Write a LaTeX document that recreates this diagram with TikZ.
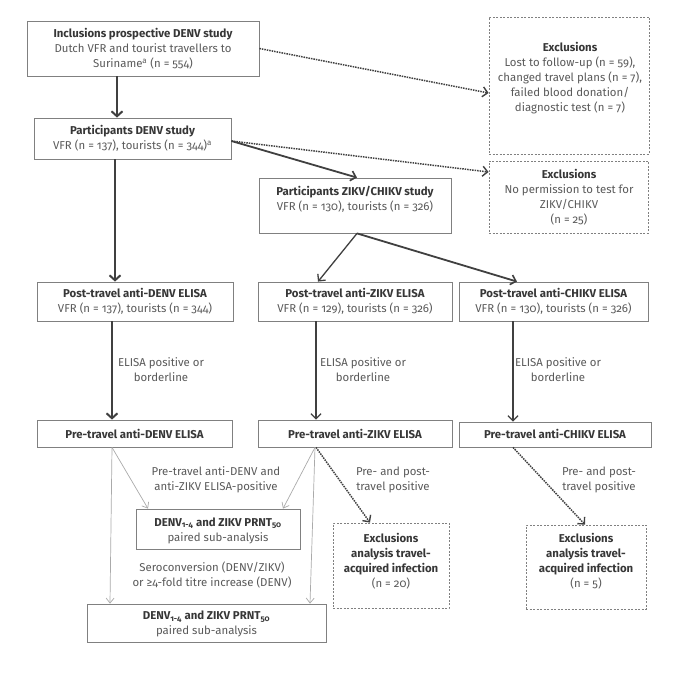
\documentclass[tikz,border=0pt]{standalone}
\usepackage{fontspec}
\setmainfont{Fira Sans}[Numbers=OldStyle]
\usetikzlibrary{arrows.meta}
\definecolor{boxline}{RGB}{128,128,128}
\definecolor{darkarrow}{RGB}{64,64,64}
\definecolor{lightarrow}{RGB}{170,170,170}
\definecolor{titlegray}{RGB}{55,55,55}
\definecolor{txtgray}{RGB}{90,90,90}
\newcommand\ttl[1]{{\color{titlegray}\bfseries #1}}
\begin{document}
\begin{tikzpicture}[x=1pt,y=-1pt,
  box/.style 2 args={draw=boxline, line width=0.8pt, inner sep=0pt, minimum width=#1, minimum height=#2},
  dbox/.style 2 args={draw=boxline, line width=0.8pt, dash pattern=on 2pt off 1.5pt, inner sep=0pt, minimum width=#1, minimum height=#2},
  txt/.style={align=center, text=txtgray, inner sep=0pt, font=\fontsize{11.4}{15}\selectfont},
  thick arrow/.style={draw=darkarrow, line width=2.4pt, -{Straight Barb[length=5pt,width=11pt,line width=2pt]}},
  mid arrow/.style={draw=darkarrow, line width=1.8pt, -{Straight Barb[length=5pt,width=10pt,line width=1.6pt]}},
  thin arrow/.style={draw=darkarrow, line width=1.3pt, -{Straight Barb[length=5pt,width=10pt,line width=1.3pt]}},
  light arrow/.style={draw=lightarrow, line width=0.7pt, -{Straight Barb[length=5pt,width=8pt,line width=0.7pt]}},
  dot arrow/.style={draw=darkarrow, line width=1.5pt, densely dotted, -{Straight Barb[length=5pt,width=10pt,line width=1.4pt]}}
]
\useasboundingbox (0,0) rectangle (675,676);
\fill[white] (0,0) rectangle (675,676);

% boxes
\node[box={232pt}{55pt}] (b1) at (143,48.5) {};
\node[box={197pt}{41pt}] (b2) at (132.5,138.5) {};
\node[dbox={160pt}{137pt}] (ex1) at (569,85.5) {};
\node[dbox={159pt}{72pt}] (ex2) at (568.5,197) {};
\node[box={192pt}{55pt}] (zc) at (355,205.5) {};
\node[box={196pt}{39pt}] (pd) at (135,301.5) {};
\node[box={194pt}{39pt}] (pz) at (355,301.5) {};
\node[box={189pt}{39pt}] (pc) at (553.5,301.5) {};
\node[box={195pt}{27pt}] (qd) at (134.5,433.5) {};
\node[box={194pt}{27pt}] (qz) at (355,433.5) {};
\node[box={192pt}{25pt}] (qc) at (555,434.5) {};
\node[box={164pt}{40pt}] (r1) at (218,529) {};
\node[box={239pt}{38pt}] (r2) at (206.5,623) {};
\node[dbox={116pt}{85pt}] (ex3) at (391,565.5) {};
\node[dbox={120pt}{84pt}] (ex4) at (586,567) {};

% texts
\node[txt] (b1t) at (143,49) {\ttl{Inclusions prospective DENV study}\\Dutch VFR and tourist travellers to\\Suriname\textsuperscript{a} (n = 554)};
\node[txt] (b2t) at (132.5,138.5) {\ttl{Participants DENV study}\\VFR (n = 137), tourists (n = 344)\textsuperscript{a}};
\node[txt] (ex1t) at (570,78) {\ttl{Exclusions}\\Lost to follow-up (n = 59),\\changed travel plans (n = 7),\\failed blood donation/\\diagnostic test (n = 7)};
\node[txt] (ex2t) at (569,197.5) {\ttl{Exclusions}\\No permission to test for\\ZIKV/CHIKV\\(n = 25)};
\node[txt] (zct) at (355,199) {\ttl{Participants ZIKV/CHIKV study}\\VFR (n = 130), tourists (n = 326)};
\node[txt] (pdt) at (135,301.5) {\ttl{Post-travel anti-DENV ELISA}\\VFR (n = 137), tourists (n = 344)};
\node[txt] (pzt) at (355,301.5) {\ttl{Post-travel anti-ZIKV ELISA}\\VFR (n = 129), tourists (n = 326)};
\node[txt] (pct) at (553.5,301.5) {\ttl{Post-travel anti-CHIKV ELISA}\\VFR (n = 130), tourists (n = 326)};
\node[txt] (qdt) at (134.5,433.5) {\ttl{Pre-travel anti-DENV ELISA}};
\node[txt] (qzt) at (355,433.5) {\ttl{Pre-travel anti-ZIKV ELISA}};
\node[txt] (qct) at (555,434) {\ttl{Pre-travel anti-CHIKV ELISA}};
\node[txt] (r1t) at (218,530.5) {\ttl{DENV\textsubscript{1-4} and ZIKV PRNT\textsubscript{50}}\\paired sub-analysis};
\node[txt] (r2t) at (206.5,624) {\ttl{DENV\textsubscript{1-4} and ZIKV PRNT\textsubscript{50}}\\paired sub-analysis};
\node[txt] (ex3t) at (391,561) {\ttl{Exclusions}\\\ttl{analysis travel-}\\\ttl{acquired infection}\\(n = 20)};
\node[txt] (ex4t) at (586,561) {\ttl{Exclusions}\\\ttl{analysis travel-}\\\ttl{acquired infection}\\(n = 5)};

% labels
\node[txt] (l1) at (161,369.5) {ELISA positive or\\borderline};
\node[txt] (l2) at (363,369.5) {ELISA positive or\\borderline};
\node[txt] (l3) at (558,369.5) {ELISA positive or\\borderline};
\node[txt] (l4) at (216,480) {Pre-travel anti-DENV and\\anti-ZIKV ELISA-positive};
\node[txt] (l5) at (212,575.5) {Seroconversion (DENV/ZIKV)\\or ≥4-fold titre increase (DENV)};
\node[txt] (l6) at (393,479.5) {Pre- and post-\\travel positive};
\node[txt] (l7) at (599,479.5) {Pre- and post-\\travel positive};

% connectors
\draw[thick arrow] ([xshift=-26pt]b1.south) -- ([xshift=-15.5pt]b2.north);
\draw[thick arrow] ([xshift=-17.5pt]b2.south) -- ([xshift=-20pt]pd.north);
\draw[thick arrow] ([xshift=-23pt]pd.south) -- ([xshift=-22.5pt]qd.north);
\draw[mid arrow] ([yshift=-2.5pt]b2.east) -- ([xshift=2pt]zc.north);
\draw[thin arrow] ([xshift=2pt]zc.south) -- ([xshift=-37pt]pz.north);
\draw[mid arrow] ([xshift=2pt]zc.south) -- ([xshift=-36.5pt]pc.north);
\draw[thin arrow] ([xshift=-39pt]pz.south) -- ([xshift=-39pt]qz.north);
\draw[thin arrow] ([xshift=-40.5pt]pc.south) -- ([xshift=-42pt]qc.north);
\draw[dot arrow] (b1.east) -- ([yshift=-7.5pt]ex1.west);
\draw[dot arrow] ([yshift=-2.5pt]b2.east) -- ([yshift=25pt]ex2.west);
\draw[dot arrow] ([xshift=-39pt]qz.south) -- ([xshift=-21pt]ex3.north);
\draw[dot arrow] ([xshift=-42pt]qc.south) -- ([xshift=-1pt]ex4.north);
\draw[light arrow] ([xshift=-22.5pt]qd.south) -- ([xshift=-70pt]r1.north);
\draw[light arrow] ([xshift=-22.5pt]qd.south) -- ([xshift=-96.5pt]r2.north);
\draw[light arrow] ([xshift=-40pt]qz.south) -- ([xshift=65pt]r1.north);
\draw[light arrow] ([xshift=-40pt]qz.south) -- ([xshift=103.5pt]r2.north);
\end{tikzpicture}
\end{document}
